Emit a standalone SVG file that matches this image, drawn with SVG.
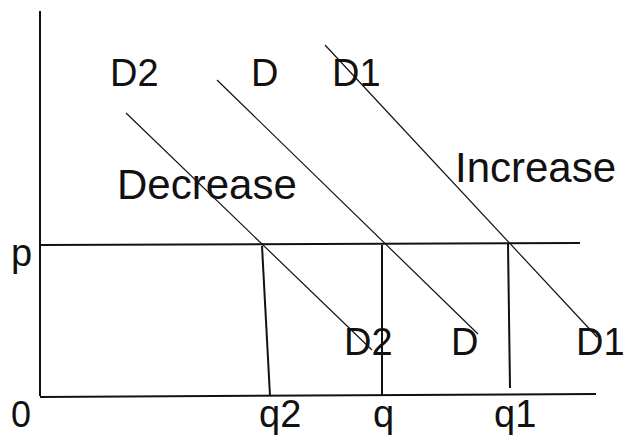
<svg xmlns="http://www.w3.org/2000/svg" width="630" height="443" viewBox="0 0 630 443">
<style>
.ax{stroke:#111;stroke-width:2;fill:none}
.dl{stroke:#111;stroke-width:1.2;fill:none}
.t{font-family:"Liberation Sans",Arial,sans-serif;fill:#111}
</style>
<rect width="630" height="443" fill="#fff"/>
<g id="axes">
<line class="ax" x1="40" y1="11" x2="40" y2="396"/>
<line class="ax" x1="40" y1="397" x2="596" y2="394"/>
<line class="ax" x1="40" y1="245" x2="580" y2="243"/>
</g>
<g id="curves">
<line class="dl" x1="126" y1="113" x2="372" y2="350"/>
<line class="dl" x1="217" y1="80" x2="478" y2="334"/>
<line class="dl" x1="325" y1="45" x2="597" y2="337"/>
</g>
<g id="drops">
<line class="ax" x1="262" y1="246" x2="270" y2="396"/>
<line class="ax" x1="382" y1="245" x2="382" y2="395"/>
<line class="ax" x1="508" y1="244" x2="510" y2="388"/>
</g>
<g id="labels" class="t">
<text x="110" y="86" font-size="38">D2</text>
<text x="251" y="86" font-size="38">D</text>
<text x="332" y="86" font-size="38">D1</text>
<text x="117" y="199" font-size="42">Decrease</text>
<text x="455" y="182" font-size="42">Increase</text>
<text x="344" y="355" font-size="38">D2</text>
<text x="451" y="355" font-size="38">D</text>
<text x="576" y="355" font-size="38">D1</text>
<text x="11" y="266" font-size="38">p</text>
<text x="11" y="427" font-size="36">0</text>
<text x="259" y="427" font-size="38">q2</text>
<text x="373" y="427" font-size="38">q</text>
<text x="494" y="427" font-size="38">q1</text>
</g>
</svg>
